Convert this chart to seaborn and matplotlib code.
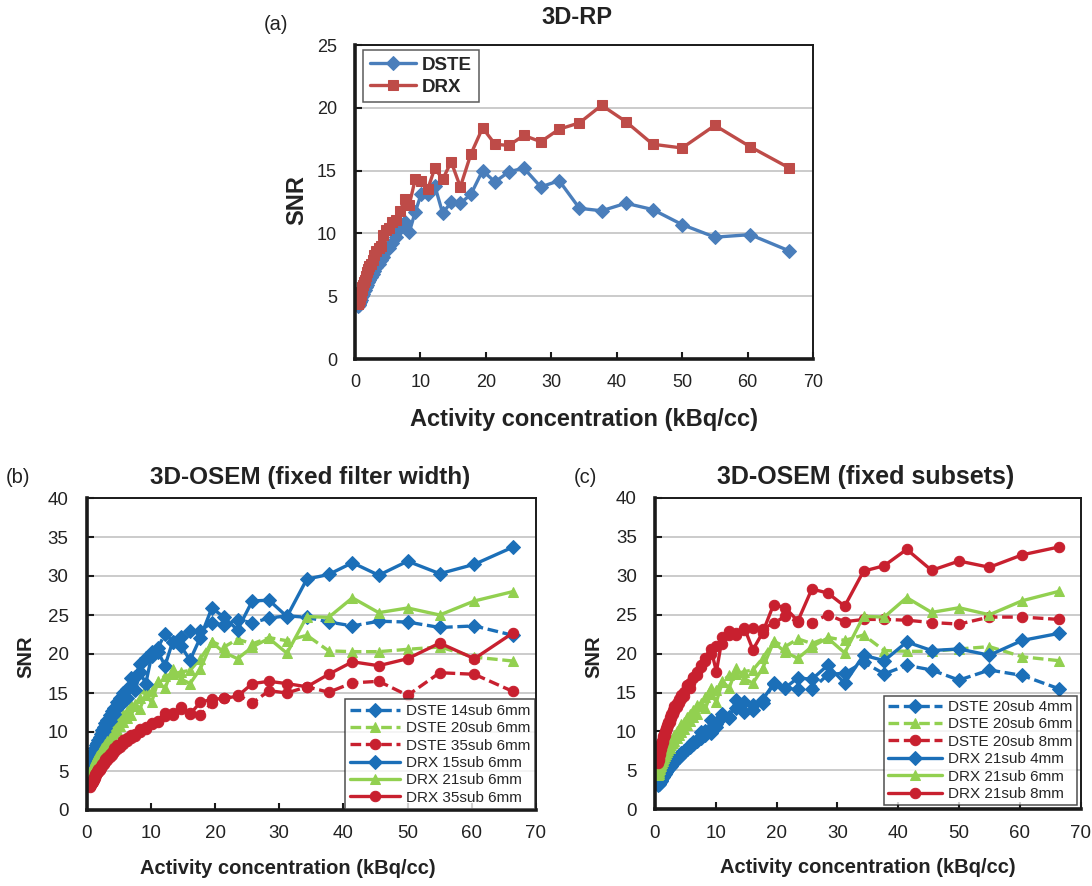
import matplotlib
matplotlib.use("Agg")
import matplotlib.pyplot as plt
import seaborn as sns
import numpy as np
import pandas as pd

# ---------------- data ----------------
activity = [66.4, 60.4, 55.0, 50.0, 45.5, 41.4, 37.7, 34.3, 31.2, 28.4,
            25.8, 23.5, 21.4, 19.5, 17.7, 16.1, 14.7, 13.4, 12.2, 11.1,
            10.1, 9.2, 8.3, 7.6, 6.9, 6.3, 5.7, 5.2, 4.7, 4.3,
            3.9, 3.6, 3.2, 2.9, 2.7, 2.4, 2.2, 2.0, 1.8, 1.65,
            1.5, 1.37, 1.25, 1.13, 1.03, 0.94, 0.85, 0.78, 0.71, 0.64,
            0.58, 0.53]

# (a) 3D-RP
rp_dste = [8.6, 9.9, 9.7, 10.7, 11.9, 12.4, 11.8, 12.0, 14.2, 13.7,
           15.2, 14.9, 14.1, 15.0, 13.1, 12.4, 12.5, 11.6, 13.8, 13.1,
           13.1, 11.7, 10.1, 10.9, 10.4, 9.75, 9.2, 8.8, 8.7, 8.1,
           7.9, 7.6, 7.3, 7.0, 6.8, 6.5, 6.3, 6.1, 5.9, 5.7,
           5.5, 5.4, 5.2, 5.1, 5.0, 4.9, 4.7, 4.6, 4.5, 4.4,
           4.3, 4.2]
rp_drx = [15.2, 16.9, 18.6, 16.8, 17.1, 18.9, 20.2, 18.8, 18.3, 17.3,
          17.8, 17.0, 17.1, 18.4, 16.3, 13.7, 15.7, 14.3, 15.2, 13.5,
          14.2, 14.3, 12.3, 12.7, 11.8, 11.1, 10.9, 10.4, 10.3, 9.9,
          9.0, 8.8, 8.6, 8.3, 7.9, 7.6, 7.4, 7.2, 6.9, 6.6,
          6.3, 6.1, 5.9, 5.7, 5.5, 5.3, 5.1, 5.0, 4.8, 4.6,
          4.5, 4.4]

# (b) 3D-OSEM fixed filter width (6 mm)
dste_14sub_6mm = [22.4, 23.6, 23.4, 24.1, 24.2, 23.6, 24.1, 24.7, 24.9, 24.6,
                  24.0, 24.4, 23.7, 24.0, 23.0, 22.9, 22.2, 21.6, 22.6, 20.8,
                  20.2, 19.5, 18.7, 17.1, 16.9, 15.5, 15.0, 14.3, 13.9, 13.1,
                  12.7, 12.2, 11.6, 11.1, 10.7, 10.2, 9.8, 9.4, 9.0, 8.6,
                  8.3, 8.0, 7.7, 7.4, 7.1, 6.8, 6.5, 6.3, 6.0, 5.8,
                  5.5, 5.3]
dste_20sub_6mm = [19.1, 19.6, 20.9, 20.6, 20.3, 20.3, 20.4, 22.4, 21.7, 22.1,
                  21.3, 21.9, 20.9, 21.6, 19.4, 17.9, 17.7, 17.4, 17.2, 16.5,
                  15.3, 15.6, 14.4, 13.6, 13.4, 12.7, 12.3, 11.8, 11.2, 10.9,
                  10.3, 10.0, 9.6, 9.2, 8.9, 8.5, 8.2, 7.9, 7.6, 7.3,
                  7.0, 6.8, 6.5, 6.3, 6.0, 5.8, 5.6, 5.4, 5.2, 5.0,
                  4.8, 4.6]
dste_35sub_6mm = [15.2, 17.4, 17.6, 14.7, 16.5, 16.3, 15.1, 15.8, 15.0, 15.3,
                  13.7, 14.8, 14.3, 13.7, 12.2, 12.4, 13.0, 12.2, 12.0, 11.4,
                  11.0, 10.4, 10.0, 9.5, 9.2, 8.9, 8.4, 8.1, 7.8, 7.4,
                  7.0, 6.8, 6.4, 6.2, 5.9, 5.6, 5.4, 5.1, 4.9, 4.7,
                  4.5, 4.3, 4.1, 3.9, 3.8, 3.6, 3.5, 3.4, 3.3, 3.2,
                  3.1, 3.0]
drx_15sub_6mm = [33.7, 31.5, 30.3, 31.9, 30.1, 31.7, 30.2, 29.6, 24.8, 26.9,
                 26.8, 23.1, 24.7, 25.9, 22.1, 19.2, 21.0, 21.6, 18.5, 20.3,
                 19.7, 16.2, 17.7, 15.4, 15.9, 14.3, 14.6, 13.4, 13.2, 12.3,
                 12.0, 11.4, 11.0, 10.5, 10.0, 9.6, 9.2, 8.9, 8.5, 8.1,
                 7.8, 7.5, 7.2, 6.9, 6.6, 6.3, 6.0, 5.8, 5.5, 5.2,
                 4.9, 4.7]
drx_21sub_6mm = [28.0, 26.8, 25.0, 25.9, 25.3, 27.2, 24.7, 24.8, 20.1, 22.0,
                 20.9, 19.4, 20.2, 21.5, 18.1, 16.2, 16.8, 18.1, 15.6, 16.4,
                 13.8, 14.8, 13.0, 13.3, 12.2, 11.8, 11.3, 10.8, 10.3, 9.9,
                 9.5, 9.2, 8.8, 8.5, 8.2, 7.9, 7.6, 7.4, 7.1, 6.9,
                 6.6, 6.4, 6.2, 6.0, 5.8, 5.6, 5.4, 5.2, 5.0, 4.8,
                 4.6, 4.4]
drx_35sub_6mm = [22.7, 19.4, 21.4, 19.4, 18.5, 19.0, 17.4, 15.8, 16.2, 16.5,
                 16.2, 14.6, 14.3, 14.2, 13.8, 12.3, 13.2, 12.4, 12.5, 11.3,
                 11.1, 10.7, 10.4, 9.8, 9.6, 9.2, 9.0, 8.5, 8.3, 7.9,
                 7.5, 7.2, 6.8, 6.5, 6.2, 5.9, 5.7, 5.4, 5.2, 5.0,
                 4.8, 4.6, 4.4, 4.2, 4.0, 3.9, 3.7, 3.6, 3.5, 3.4,
                 3.3, 3.2]

# (c) 3D-OSEM fixed subsets
dste_20sub_4mm = [15.5, 17.2, 17.9, 16.6, 17.9, 18.5, 17.4, 18.9, 17.5, 17.3,
                  15.4, 15.4, 15.6, 16.2, 13.6, 12.8, 12.5, 13.0, 11.7, 11.9,
                  11.0, 9.8, 10.0, 9.2, 8.9, 8.4, 8.2, 7.8, 7.5, 7.2,
                  6.9, 6.6, 6.3, 6.1, 5.8, 5.6, 5.4, 5.2, 5.0, 4.8,
                  4.6, 4.5, 4.3, 4.1, 4.0, 3.9, 3.8, 3.7, 3.6, 3.5,
                  3.4, 3.3]
dste_20sub_8mm = [24.4, 24.7, 24.7, 23.8, 24.0, 24.3, 24.4, 24.4, 24.1, 25.0,
                  24.0, 24.1, 24.8, 23.9, 23.2, 23.3, 23.0, 22.4, 22.4, 21.3,
                  21.0, 20.0, 19.5, 18.3, 17.6, 17.0, 16.2, 16.0, 15.1, 14.7,
                  14.2, 13.6, 13.3, 12.8, 12.3, 11.8, 11.2, 10.8, 10.5, 10.1,
                  9.7, 9.4, 9.1, 8.8, 8.5, 8.2, 7.9, 7.6, 7.3, 7.1,
                  6.8, 6.5]
drx_21sub_4mm = [22.6, 21.7, 19.8, 20.6, 20.4, 21.5, 19.1, 19.8, 16.2, 18.5,
                 16.7, 16.9, 15.6, 16.1, 14.1, 13.4, 13.8, 14.1, 11.8, 12.2,
                 10.6, 11.5, 9.6, 9.9, 8.8, 8.6, 8.0, 7.7, 7.3, 7.0,
                 6.7, 6.4, 6.1, 5.9, 5.6, 5.4, 5.2, 5.0, 4.8, 4.6,
                 4.4, 4.3, 4.1, 4.0, 3.8, 3.7, 3.6, 3.5, 3.4, 3.3,
                 3.2, 3.1]
drx_21sub_8mm = [33.7, 32.7, 31.1, 31.9, 30.7, 33.4, 31.3, 30.6, 26.1, 27.8,
                 28.3, 24.2, 25.9, 26.3, 22.7, 20.5, 23.3, 22.7, 22.9, 22.2,
                 17.7, 20.6, 19.0, 18.5, 17.3, 16.9, 15.6, 15.8, 14.6, 14.2,
                 13.6, 13.1, 12.6, 12.2, 11.7, 11.2, 10.8, 10.4, 10.0, 9.6,
                 9.3, 8.9, 8.6, 8.3, 8.0, 7.7, 7.4, 7.1, 6.8, 6.6,
                 6.3, 6.0]

x_ticks = [0, 10, 20, 30, 40, 50, 60, 70]
y_ticks_a = [0, 5, 10, 15, 20, 25]
y_ticks_bc = [0, 5, 10, 15, 20, 25, 30, 35, 40]

# ---------------- style ----------------
sns.set_theme(style="white")
plt.rcParams['font.family'] = ['Liberation Sans', 'DejaVu Sans']

BLUE_A, RED_A = '#4A7EBB', '#BE4B48'
BLUE, GREEN, RED = '#1B6FB8', '#92D050', '#C8202F'
DASH = (0, (3.2, 1.4))
TXT = '#222222'

fig = plt.figure(figsize=(10.92, 8.86), dpi=100)
W, H = 1092.0, 886.0


def make_ax(left, right, top, bottom):
    return fig.add_axes([left / W, 1 - bottom / H, (right - left) / W, (bottom - top) / H])


ax_a = make_ax(355, 813, 45, 359)
ax_b = make_ax(86.7, 536, 498, 810)
ax_c = make_ax(655, 1080.6, 498, 809.3)


def style_axes(ax, yticks, ymax, ticksize):
    ax.set_xlim(0, 70)
    ax.set_ylim(0, ymax)
    ax.set_xticks(x_ticks)
    ax.set_yticks(yticks)
    ax.yaxis.grid(True, color='#BDBDBD', linewidth=1.1)
    ax.xaxis.grid(False)
    ax.set_axisbelow(True)
    for side in ['top', 'right']:
        ax.spines[side].set_linewidth(1.4)
        ax.spines[side].set_color('#1a1a1a')
    for side in ['left', 'bottom']:
        ax.spines[side].set_linewidth(2.6)
        ax.spines[side].set_color('#1a1a1a')
    ax.tick_params(axis='both', direction='in', length=5, width=1.5, color='#1a1a1a',
                   labelsize=ticksize, labelcolor=TXT)
    ax.tick_params(axis='x', pad=11, bottom=True)
    ax.tick_params(axis='y', pad=13, left=True)
    ax.set_facecolor('white')


def draw(ax, y, color, marker, ms, dashed, label):
    sns.lineplot(x=activity, y=y, ax=ax, color=color, marker=marker, markersize=ms,
                 markeredgecolor=color, markerfacecolor=color, linewidth=2.4,
                 linestyle=DASH if dashed else '-', sort=False, estimator=None,
                 label=label)


# ---- (a) ----
style_axes(ax_a, y_ticks_a, 25, 13)
draw(ax_a, rp_dste, BLUE_A, 'D', 7.5, False, 'DSTE')
draw(ax_a, rp_drx, RED_A, 's', 7.5, False, 'DRX')
leg = ax_a.legend(loc='upper left', bbox_to_anchor=(0.0175, 0.984), borderaxespad=0,
                  frameon=True, fancybox=False, edgecolor='#333333',
                  prop={'weight': 'bold', 'size': 13.5}, handlelength=2.5,
                  handletextpad=0.3, labelspacing=0.25, borderpad=0.35)
leg.get_frame().set_linewidth(1.1)

# ---- (b) ----
style_axes(ax_b, y_ticks_bc, 40, 13.5)
draw(ax_b, dste_14sub_6mm, BLUE, 'D', 7.5, True, 'DSTE 14sub 6mm')
draw(ax_b, dste_20sub_6mm, GREEN, '^', 7.5, True, 'DSTE 20sub 6mm')
draw(ax_b, dste_35sub_6mm, RED, 'o', 7.5, True, 'DSTE 35sub 6mm')
draw(ax_b, drx_15sub_6mm, BLUE, 'D', 7.5, False, 'DRX 15sub 6mm')
draw(ax_b, drx_21sub_6mm, GREEN, '^', 7.5, False, 'DRX 21sub 6mm')
draw(ax_b, drx_35sub_6mm, RED, 'o', 7.5, False, 'DRX 35sub 6mm')
leg = ax_b.legend(loc='lower right', borderaxespad=0.05, frameon=True, fancybox=False,
                  edgecolor='#222222', prop={'size': 11}, handlelength=3.3,
                  handletextpad=0.4, labelspacing=0.22, borderpad=0.3)
leg.get_frame().set_linewidth(1.1)

# ---- (c) ----
style_axes(ax_c, y_ticks_bc, 40, 13.5)
draw(ax_c, dste_20sub_4mm, BLUE, 'D', 7.5, True, 'DSTE 20sub 4mm')
draw(ax_c, dste_20sub_6mm, GREEN, '^', 7.5, True, 'DSTE 20sub 6mm')
draw(ax_c, dste_20sub_8mm, RED, 'o', 7.5, True, 'DSTE 20sub 8mm')
draw(ax_c, drx_21sub_4mm, BLUE, 'D', 7.5, False, 'DRX 21sub 4mm')
draw(ax_c, drx_21sub_6mm, GREEN, '^', 7.5, False, 'DRX 21sub 6mm')
draw(ax_c, drx_21sub_8mm, RED, 'o', 7.5, False, 'DRX 21sub 8mm')
leg = ax_c.legend(loc='lower right', borderaxespad=0.25, frameon=True, fancybox=False,
                  edgecolor='#222222', prop={'size': 11}, handlelength=3.5,
                  handletextpad=0.4, labelspacing=0.22, borderpad=0.3)
leg.get_frame().set_linewidth(1.1)

# ---- labels & titles ----
XL = 'Activity concentration (kBq/cc)'
for ax, xlx, xly, ylx, yly, title, tx, ty, lsize, tsize in [
        (ax_a, 0.5, -0.194, -0.127, 0.506, '3D-RP', 0.485, 1.086, 17, 17),
        (ax_b, 0.448, -0.186, -0.135, 0.49, '3D-OSEM (fixed filter width)', 0.497, 1.067, 14.5, 17.5),
        (ax_c, 0.5, -0.188, -0.143, 0.49, '3D-OSEM (fixed subsets)', 0.496, 1.068, 14.5, 18)]:
    ax.set_xlabel(XL, fontsize=lsize, fontweight='bold', color=TXT)
    ax.xaxis.set_label_coords(xlx, xly)
    ax.xaxis.label.set_va('center')
    ax.set_ylabel('SNR', fontsize=lsize, fontweight='bold', color=TXT)
    ax.yaxis.set_label_coords(ylx, yly)
    ax.yaxis.label.set_va('center')
    ax.text(tx, ty, title, transform=ax.transAxes, ha='center', va='center',
            fontsize=tsize, fontweight='bold', color=TXT)

fig.text(276 / W, 1 - 25 / H, '(a)', ha='center', va='center', fontsize=14.5, color=TXT)
fig.text(18 / W, 1 - 478 / H, '(b)', ha='center', va='center', fontsize=14.5, color=TXT)
fig.text(585 / W, 1 - 478 / H, '(c)', ha='center', va='center', fontsize=14.5, color=TXT)

fig.savefig('out.png', dpi=100, facecolor='white')
